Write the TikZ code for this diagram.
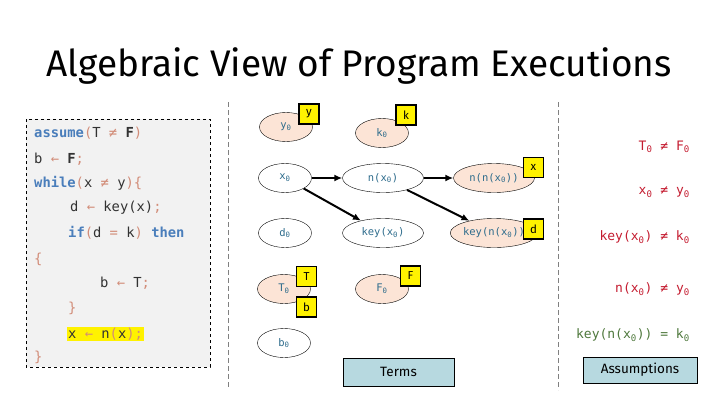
\documentclass[tikz,border=0pt]{standalone}
\usepackage{fontspec}
\usetikzlibrary{shapes.geometric,arrows.meta}
\setsansfont{Fira Sans}
\newfontfamily\codefont{DejaVu Sans Mono}

\definecolor{kwblue}{RGB}{74,126,187}
\definecolor{punct}{RGB}{210,140,120}
\definecolor{ident}{RGB}{50,50,50}
\definecolor{termtext}{RGB}{46,108,140}
\definecolor{peach}{RGB}{252,228,214}
\definecolor{boxblue}{RGB}{183,217,224}
\definecolor{codebg}{RGB}{242,242,242}
\definecolor{neqred}{RGB}{196,28,48}
\definecolor{eqgreen}{RGB}{78,120,60}

\newcommand{\kw}[1]{\textcolor{kwblue}{\textbf{#1}}}
\newcommand{\pu}[1]{\textcolor{punct}{#1}}
\newcommand{\zs}{\textsubscript{0}}

\begin{document}
\begin{tikzpicture}[x=1pt,y=-1pt,
    code/.style={anchor=west, inner sep=1pt, text=ident,
        font=\codefont\fontsize{13.8}{15}\selectfont},
    term/.style={draw, ellipse, minimum width=53pt, minimum height=29pt,
        inner sep=0pt, text=termtext, font=\codefont\fontsize{10.5}{12}\selectfont},
    wideterm/.style={term, minimum width=81pt},
    tag/.style={draw, line width=1.6pt, fill=yellow, minimum size=20pt,
        inner sep=0pt, font=\sffamily\fontsize{11.5}{12}\selectfont},
    fact/.style={anchor=east, inner sep=0pt,
        font=\codefont\fontsize{13}{15}\selectfont},
    caption/.style={draw, thick, fill=boxblue, inner sep=0pt,
        font=\sffamily\fontsize{13.5}{15}\selectfont},
    arr/.style={line width=2pt, -{Latex[length=8pt,width=7pt]}},
    sep/.style={gray, thick, dash pattern=on 5pt off 3pt}]

    \useasboundingbox (0,0) rectangle (720,405);

    \node[font=\sffamily\fontsize{37}{42}\selectfont] (title) at (359,66)
        {Algebraic View of Program Executions};

    % program
    \draw[dashed, fill=codebg] (26,119) rectangle (210,367);
    \node[code] (l1) at (33,133) {\kw{assume}\pu{(}T \pu{≠} \textbf{F}\pu{)}};
    \node[code] (l2) at (33,159) {b \pu{←} \textbf{F}\pu{;}};
    \node[code] (l3) at (33,183) {\kw{while}\pu{(}x \pu{≠} y\pu{)\{}};
    \node[code] (l4) at (69,208) {d \pu{←} key(x)\pu{;}};
    \node[code] (l5) at (67,233) {\kw{if}\pu{(}d \pu{=} k\pu{)} \kw{then}};
    \node[code] (l6) at (33,259) {\pu{\{}};
    \node[code] (l7) at (99,283) {b \pu{←} T\pu{;}};
    \node[code] (l8) at (67,308) {\pu{\}}};
    \node[code, fill=yellow] (l9) at (67,334) {x \pu{←} n\pu{(}x\pu{);}};
    \node[code] (l10) at (33,357) {\pu{\}}};

    \draw[sep] (228.5,102) -- (228.5,388);
    \draw[sep] (558,102) -- (558,390);

    % terms
    \node[term, fill=peach] (y0) at (286,127) {y\zs};
    \node[term, fill=peach] (k0) at (382,133) {k\zs};
    \node[term] (x0) at (285,178) {x\zs};
    \node[wideterm] (nx0) at (383,178) {n(x\zs)};
    \node[wideterm, fill=peach] (nnx0) at (494,178) {n(n(x\zs))};
    \node[term] (d0) at (285,233) {d\zs};
    \node[wideterm] (kx0) at (383,233) {key(x\zs)};
    \node[wideterm, fill=peach] (knx0) at (494,233) {key(n(x\zs))};
    \node[term, fill=peach] (T0) at (284,289) {T\zs};
    \node[term, fill=peach] (F0) at (382,289) {F\zs};
    \node[term] (b0) at (284,343) {b\zs};

    \draw[arr] (x0) -- (nx0);
    \draw[arr] (x0) -- (kx0);
    \draw[arr] (nx0) -- (nnx0);
    \draw[arr] (nx0) -- (knx0);

    \node[tag] (ytag) at (309,114) {y};
    \node[tag] (ktag) at (406,115) {k};
    \node[tag] (xtag) at (533.5,167.5) {x};
    \node[tag] (dtag) at (533.5,229) {d};
    \node[tag] (Ttag) at (306.5,276.5) {T};
    \node[tag] (btag) at (306.5,307) {b};
    \node[tag] (Ftag) at (410.5,276) {F};

    \node[caption, minimum width=111pt, minimum height=28pt] (terms) at (398.5,372) {Terms};

    % assumptions
    \node[fact, text=neqred] (a1) at (690,147) {T\zs{} ≠ F\zs};
    \node[fact, text=neqred] (a2) at (690,192) {x\zs{} ≠ y\zs};
    \node[fact, text=neqred] (a3) at (690,237) {key(x\zs) ≠ k\zs};
    \node[fact, text=neqred] (a4) at (690,289) {n(x\zs) ≠ y\zs};
    \node[fact, text=eqgreen] (a5) at (690,335) {key(n(x\zs)) = k\zs};

    \node[caption, minimum width=114pt, minimum height=26pt] (assume) at (640,370) {Assumptions};
\end{tikzpicture}
\end{document}
